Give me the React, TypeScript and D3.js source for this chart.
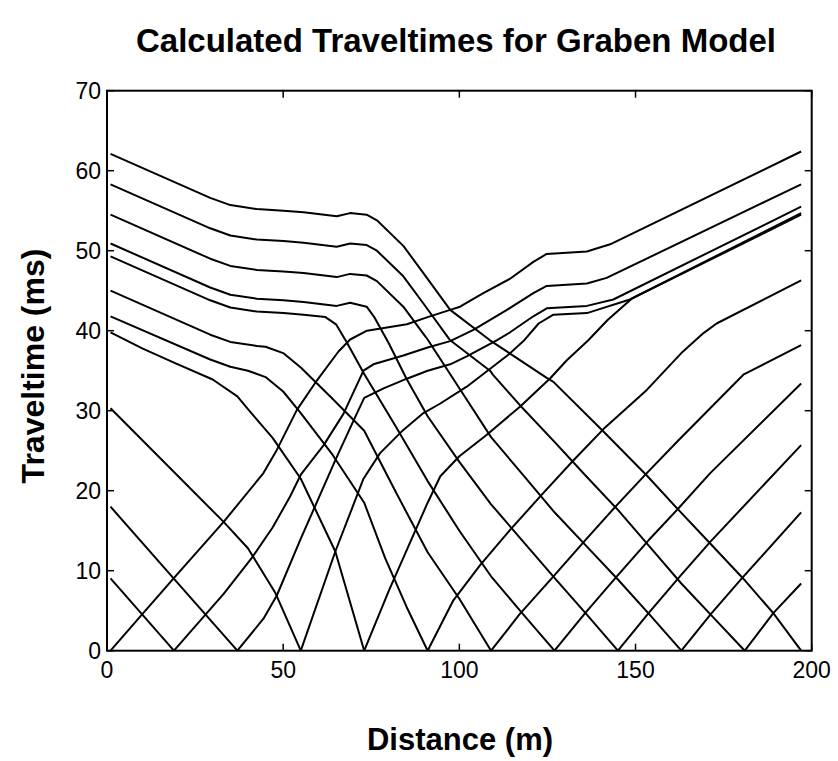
import * as d3 from "d3";
import { useRef, useEffect } from "react";

const xTicks = [0, 50, 100, 150, 200];
const yTicks = [0, 10, 20, 30, 40, 50, 60, 70];

// traveltime branches: [distance (m), time (ms)]
// sNNNL = shot at NNN m, arrivals to the left; sNNNR = arrivals to the right
const s001R = [[1, 0], [9.9, 4.5], [18.9, 9.05], [33.1, 16.1], [44.4, 22.2], [48.2, 25.1], [53.9, 30.1], [59.6, 33.8], [65.7, 37.4], [69, 38.9], [73.8, 40], [85.1, 40.8], [91, 41.7], [97.4, 42.6], [100.2, 43], [106.8, 44.7], [114.4, 46.5], [121, 48.6], [124.8, 49.6], [136.2, 49.9], [142.8, 50.8], [197, 62.4]];
const s019L = [[19, 0], [1, 9.05]];
const s019R = [[19, 0], [33.1, 7.1], [41.1, 11.6], [47, 15.4], [52, 19.3], [55, 22], [61.5, 25.7], [67.1, 29.6], [72.8, 35], [75.6, 35.8], [84.1, 36.9], [91, 37.9], [97.4, 38.7], [104, 40.1], [113.5, 42.6], [121, 44.7], [124.8, 45.6], [136.2, 45.9], [141.8, 46.6], [197, 58.3]];
const s037L = [[37, 0], [18.9, 9.05], [1, 18]];
const s037R = [[37, 0], [44.4, 4], [48.2, 6.9], [55, 14], [60, 19], [65, 24], [70, 28.8], [73, 31.6], [78.5, 32.8], [85.1, 34], [91, 35], [97.4, 35.8], [102.1, 36.8], [110.6, 38.8], [114.4, 39.8], [121, 41.8], [124.8, 42.8], [136.2, 43.1], [143.7, 43.9], [197, 55.5]];
const s055L = [[55, 0], [47.8, 7.2], [40, 12.8], [33.1, 16.1], [1, 30.3]];
const s055R = [[55, 0], [64.8, 12.4], [72.8, 21.5], [77.5, 24.7], [84.1, 27.6], [89.8, 29.7], [94.6, 30.9], [102.1, 33], [113.9, 37], [118.2, 38.7], [122.5, 40.9], [126.7, 42], [136.2, 42.2], [148.4, 43.9], [197, 54.7]];
const s073L = [[73, 0], [64.8, 12.4], [55, 21.5], [47, 26.6], [40, 30.2], [37, 31.8], [30, 33.9], [19, 36], [10, 37.8], [1, 39.8]];
const s073R = [[73, 0], [80, 7.5], [87, 14.5], [91, 18.5], [94.6, 21.8], [100, 24.3], [107.8, 27], [117.2, 30.5], [125.8, 34.05], [130.5, 36.3], [136.6, 38.8], [142, 41.3], [148.9, 44], [197, 54.5]];
const s091L = [[91, 0], [85, 5.5], [79, 11.5], [73, 18.5], [64, 24.5], [55, 29.7], [50, 32.4], [45, 34.2], [40, 35], [35, 35.5], [29.3, 36.4], [1, 41.8]];
const s091R = [[91, 0], [98.3, 6.3], [105.9, 10.7], [114.4, 15.1], [123.4, 19.5], [132.4, 23.8], [140.9, 27.7], [153.2, 32.6], [163, 37.2], [169.3, 39.7], [173, 40.9], [197, 46.3]];
const s109L = [[109, 0], [100, 6.5], [91, 12.3], [82, 19.8], [73, 27.5], [64, 31.5], [55, 35.4], [50, 37.2], [45, 38], [42.5, 38.1], [35, 38.6], [29.3, 39.5], [1, 45]];
const s109R = [[109, 0], [117, 4.5], [126.7, 9.3], [135.7, 13.8], [144.7, 18.2], [153.2, 22.2], [162.2, 26.3], [180.6, 34.5], [197, 38.2]];
const s127L = [[127, 0], [118, 4.6], [109, 9.3], [100, 15], [91, 21.2], [82, 28], [73, 34.6], [68, 38.6], [65, 40.8], [62, 41.7], [55.8, 42], [50.1, 42.2], [42.5, 42.4], [35, 42.9], [29.3, 43.8], [1, 49.3]];
const s127R = [[127, 0], [135.7, 4.7], [144.7, 9.3], [153.7, 13.8], [162.2, 17.8], [171.2, 22.2], [197, 33.4]];
const s145L = [[145, 0], [136, 4.6], [127, 9.1], [118, 13.7], [109, 18.3], [100, 23.6], [91, 29.3], [85, 34], [80, 38.4], [76, 41.6], [73.7, 43], [69, 43.5], [65.2, 43.1], [55.8, 43.6], [50.1, 43.8], [42.5, 44], [35, 44.5], [29.3, 45.4], [1, 50.9]];
const s145R = [[145, 0], [153.7, 4.7], [162.6, 9.3], [171.2, 13.6], [197, 25.7]];
const s163L = [[163, 0], [154, 4.5], [145, 8.9], [136, 13.1], [127, 17.3], [118, 22], [109, 26.7], [100, 32.8], [91, 38.9], [89.8, 39.6], [84.1, 43], [76.6, 46.2], [73.7, 46.9], [69, 47.1], [65.2, 46.7], [55.8, 47.2], [50.1, 47.4], [42.5, 47.6], [35, 48.1], [29.3, 49], [1, 54.5]];
const s163R = [[163, 0], [171.6, 4.7], [180.1, 9], [197, 17.3]];
const s181L = [[181, 0], [172, 4.2], [163, 8.4], [154, 13], [145, 17.6], [136, 21.8], [127, 26.1], [118, 30.3], [109.5, 34.5], [108.7, 35], [97.4, 38.8], [89.8, 43.4], [84.1, 46.8], [76.6, 50], [73.7, 50.7], [69, 50.9], [65.2, 50.5], [55.8, 51], [50.1, 51.2], [42.5, 51.4], [35, 51.9], [29.3, 52.8], [1, 58.3]];
const s181R = [[181, 0], [189.1, 4.7], [197, 8.4]];
const s197L = [[197, 0], [189.1, 4.7], [180.6, 9], [171.2, 13.4], [162.2, 17.6], [153.2, 21.9], [140.9, 27.4], [126.7, 33.6], [124.8, 34.1], [108.7, 38.8], [97.4, 42.6], [89.8, 47.2], [84.1, 50.6], [76.6, 53.8], [73.7, 54.5], [69, 54.7], [65.2, 54.3], [55.8, 54.8], [50.1, 55], [42.5, 55.2], [35, 55.7], [29.3, 56.6], [1, 62.1]];

const branches = [
  s001R, s019L, s019R, s037L, s037R, s055L, s055R, s073L, s073R,
  s091L, s091R, s109L, s109R, s127L, s127R, s145L, s145R,
  s163L, s163R, s181L, s181R, s197L,
];

export default function App() {
  const ref = useRef(null);

  useEffect(() => {
    const width = 838;
    const height = 761;
    const svg = d3.select(ref.current);
    svg.selectAll("*").remove();
    svg.attr("width", width).attr("height", height);

    const x = d3.scaleLinear().domain([0, 200]).range([107, 811.7]);
    const y = d3.scaleLinear().domain([0, 70]).range([650.7, 90.7]);

    const line = d3.line().x(d => x(d[0])).y(d => y(d[1]));

    svg.append("g")
      .selectAll("path")
      .data(branches)
      .enter()
      .append("path")
      .attr("d", line)
      .attr("fill", "none")
      .attr("stroke", "#000")
      .attr("stroke-width", 2)
      .attr("stroke-linejoin", "round");

    // box
    svg.append("rect")
      .attr("x", x(0)).attr("y", y(70))
      .attr("width", x(200) - x(0)).attr("height", y(0) - y(70))
      .attr("fill", "none").attr("stroke", "#000").attr("stroke-width", 2);

    const tickLen = 7;
    const font = "Arial, 'Liberation Sans', Helvetica, sans-serif";

    xTicks.forEach(v => {
      svg.append("line").attr("x1", x(v)).attr("x2", x(v))
        .attr("y1", y(0)).attr("y2", y(0) - tickLen).attr("stroke", "#000").attr("stroke-width", 1.5);
      svg.append("line").attr("x1", x(v)).attr("x2", x(v))
        .attr("y1", y(70)).attr("y2", y(70) + tickLen).attr("stroke", "#000").attr("stroke-width", 1.5);
      svg.append("text").text(v)
        .attr("x", x(v)).attr("y", y(0) + 27)
        .attr("text-anchor", "middle")
        .style("font-family", font).style("font-size", "23px");
    });

    yTicks.forEach(v => {
      svg.append("line").attr("x1", x(0)).attr("x2", x(0) + tickLen)
        .attr("y1", y(v)).attr("y2", y(v)).attr("stroke", "#000").attr("stroke-width", 1.5);
      svg.append("line").attr("x1", x(200)).attr("x2", x(200) - tickLen)
        .attr("y1", y(v)).attr("y2", y(v)).attr("stroke", "#000").attr("stroke-width", 1.5);
      svg.append("text").text(v)
        .attr("x", x(0) - 6).attr("y", y(v) + 8)
        .attr("text-anchor", "end")
        .style("font-family", font).style("font-size", "23px");
    });

    svg.append("text").text("Calculated Traveltimes for Graben Model")
      .attr("x", 456).attr("y", 52)
      .attr("text-anchor", "middle")
      .style("font-family", font).style("font-weight", "bold").style("font-size", "33px");

    svg.append("text").text("Distance (m)")
      .attr("x", 460).attr("y", 750)
      .attr("text-anchor", "middle")
      .style("font-family", font).style("font-weight", "bold").style("font-size", "31px");

    svg.append("text").text("Traveltime (ms)")
      .attr("transform", "translate(44,366) rotate(-90)")
      .attr("text-anchor", "middle")
      .style("font-family", font).style("font-weight", "bold").style("font-size", "32px");
  }, []);

  return (
    <svg ref={ref} style={{ position: "absolute", left: 0, top: 0, background: "#fff" }}></svg>
  );
}
